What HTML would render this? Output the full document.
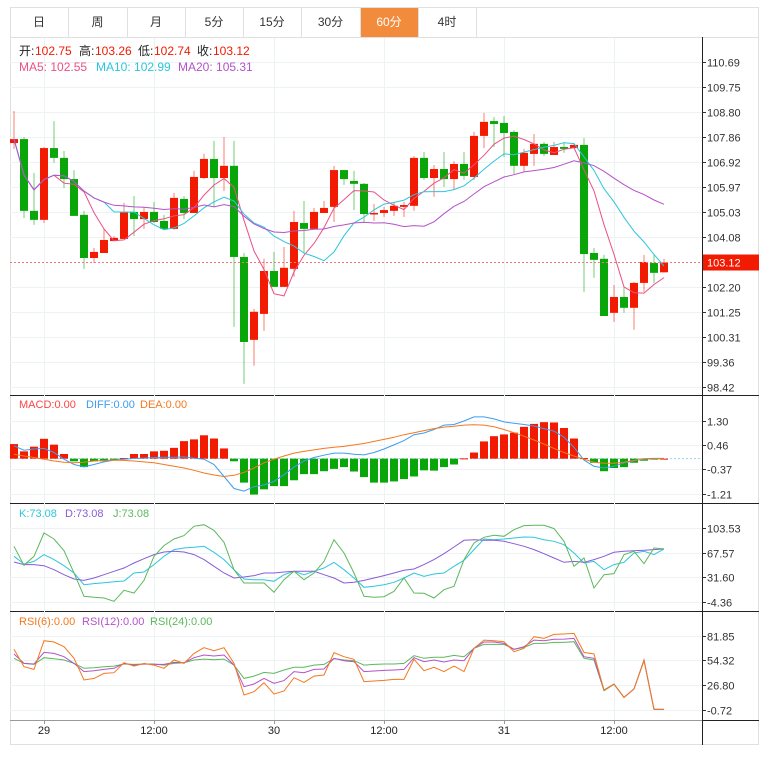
<!DOCTYPE html>
<html><head><meta charset="utf-8">
<style>
html,body{margin:0;padding:0;background:#fff;}
svg{display:block;font-family:"Liberation Sans","Noto Sans CJK SC",sans-serif;}
</style></head>
<body>
<svg id="chart" width="776" height="761" viewBox="0 0 776 761" xmlns="http://www.w3.org/2000/svg">
<g id="tabs"></g>
<g id="grid"></g>
<g id="marks"></g>
<g id="labels"></g>
</svg>
<script>
// ---------- data ----------
const opens  = [107.63,107.78,105.07,104.73,107.44,107.07,106.27,104.92,103.29,103.48,103.93,104.01,105.03,104.76,105.03,104.69,104.39,105.52,104.99,106.31,107.03,106.31,106.77,103.33,100.20,101.18,102.80,102.20,102.88,104.61,104.39,104.99,105.22,106.61,106.20,106.09,104.95,104.99,105.07,105.22,105.26,107.07,106.31,106.65,106.27,106.84,106.35,107.90,108.46,108.39,108.05,106.77,107.22,107.60,107.18,107.48,107.44,107.56,103.48,103.26,101.22,101.82,101.41,102.35,103.10,102.75];
const highs  = [108.84,107.86,106.50,107.48,108.46,107.33,106.61,105.07,103.67,104.39,104.12,105.37,105.63,105.22,105.41,104.92,105.75,105.63,106.58,107.22,107.71,107.86,107.71,103.48,101.37,103.26,103.52,103.71,105.07,105.44,105.18,105.44,106.77,106.61,106.58,106.12,105.33,105.22,105.41,105.41,107.14,107.29,106.80,107.29,106.95,107.29,108.05,108.77,108.61,108.65,108.12,107.41,107.97,107.67,107.67,107.67,107.63,107.82,103.67,103.41,102.27,102.20,102.39,103.41,103.41,103.26];
const lows   = [107.41,104.80,104.54,104.61,106.88,105.93,104.88,102.88,103.10,103.48,103.93,104.01,104.12,104.39,104.61,104.35,104.35,104.76,104.99,106.27,105.22,105.82,100.69,98.54,99.22,100.54,102.20,102.20,102.58,103.48,104.39,104.99,104.65,106.05,105.10,104.61,104.69,104.84,104.88,104.84,105.07,106.24,105.60,105.97,105.86,106.24,106.24,107.44,107.48,107.10,106.46,106.54,106.77,107.14,107.18,107.26,107.44,102.01,102.54,101.10,100.88,101.22,100.58,102.01,102.35,102.74];
const closes = [107.78,105.07,104.73,107.44,107.07,106.27,104.88,103.29,103.52,103.97,104.05,105.03,104.76,105.03,104.65,104.39,105.56,104.99,106.35,107.03,106.31,106.77,103.33,100.12,101.26,102.80,102.20,102.92,104.65,104.39,105.03,105.18,106.61,106.27,106.09,104.95,104.99,105.10,105.26,105.29,107.07,106.31,106.65,106.27,106.84,106.39,107.90,108.43,108.35,108.01,106.77,107.26,107.60,107.22,107.48,107.41,107.56,103.44,103.22,101.10,101.82,101.41,102.35,103.14,102.73,103.12];
const macdHist = [0.50,0.25,0.41,0.68,0.48,0.16,-0.09,-0.29,-0.09,-0.09,-0.01,0.02,0.16,0.16,0.25,0.27,0.37,0.60,0.66,0.80,0.69,0.35,-0.09,-0.82,-1.23,-1.05,-0.94,-0.94,-0.74,-0.53,-0.53,-0.43,-0.35,-0.29,-0.44,-0.63,-0.82,-0.82,-0.78,-0.70,-0.61,-0.40,-0.41,-0.29,-0.20,0.01,0.21,0.59,0.77,0.83,0.89,1.09,1.19,1.25,1.24,1.05,0.69,0.02,-0.14,-0.43,-0.32,-0.29,-0.14,-0.07,-0.02,0.00];
const difValues = [0.44,0.29,0.33,0.35,0.21,-0.02,-0.20,-0.28,-0.20,-0.11,-0.05,-0.02,0.01,0.02,0.04,0.05,0.05,0.06,0.02,-0.02,-0.20,-0.61,-1.02,-1.11,-0.96,-0.90,-0.78,-0.55,-0.29,-0.08,0.04,0.12,0.19,0.19,0.15,0.13,0.21,0.33,0.47,0.62,0.82,0.88,1.00,1.15,1.17,1.29,1.43,1.43,1.36,1.26,1.21,1.17,1.12,1.03,0.94,0.74,0.39,-0.05,-0.26,-0.32,-0.26,-0.14,-0.08,0.00,0.01,0.01];
const deaValues = [0.15,0.09,0.04,-0.02,-0.08,-0.12,-0.14,-0.12,-0.08,-0.06,-0.05,-0.06,-0.08,-0.11,-0.14,-0.20,-0.26,-0.32,-0.40,-0.49,-0.56,-0.61,-0.57,-0.47,-0.32,-0.14,-0.02,0.09,0.19,0.25,0.30,0.35,0.39,0.42,0.47,0.52,0.59,0.66,0.73,0.82,0.89,0.96,1.03,1.08,1.11,1.15,1.16,1.15,1.09,1.00,0.89,0.77,0.64,0.50,0.35,0.21,0.09,-0.02,-0.12,-0.16,-0.16,-0.12,-0.06,-0.02,0.00,0.00];
const kValues = [62.2,51.1,54.9,64.7,57.4,48.6,37.9,20.9,22.4,23.8,25.3,26.3,37.9,39.4,50.1,62.2,72.0,74.4,75.4,76.8,68.1,57.4,42.8,29.2,28.2,28.2,25.8,35.5,40.4,35.5,40.4,45.2,53.5,42.8,30.6,17.0,18.5,20.9,24.3,30.6,37.9,33.1,36.5,37.9,47.7,56.4,72.0,87.5,86.5,87.5,89.0,90.4,89.9,86.5,84.1,79.2,67.1,52.5,54.9,42.8,50.1,53.5,67.1,69.5,64.7,73.1];
const dValues = [54.0,50.1,50.1,48.6,42.8,35.5,29.2,27.2,30.6,35.5,40.4,45.2,52.5,58.8,64.7,68.6,69.5,68.6,64.7,57.4,47.7,37.9,30.6,32.1,34.1,37.9,37.9,39.4,40.4,40.4,40.4,35.5,30.6,23.4,24.3,27.2,30.6,34.1,37.9,41.8,43.8,50.1,57.4,66.1,75.8,85.6,86.5,85.6,85.6,84.1,80.7,76.8,72.0,66.1,59.8,53.5,54.9,53.5,57.4,62.2,68.1,69.5,70.5,71.0,72.0,73.1];
const jValues = [76.8,49.1,62.2,96.3,87.5,70.5,37.9,3.9,2.5,1.5,-3.4,12.7,8.8,27.2,62.2,77.8,87.5,92.4,106.0,108.4,100.1,82.7,42.8,23.4,23.4,23.4,9.8,28.2,40.4,28.2,37.9,54.9,86.5,67.1,37.9,3.9,2.5,3.4,11.2,30.6,8.8,8.3,1.5,13.6,18.5,57.4,81.7,89.9,92.9,91.4,101.1,107.0,107.4,107.4,102.6,84.1,47.7,59.8,16.0,35.5,37.0,64.7,69.5,51.5,74.4,73.1];
const rsi6 = [66.7,47.4,44.4,76.3,74.8,69.6,56.7,32.6,34.4,40.0,40.7,51.9,48.1,51.1,49.2,45.6,54.8,51.1,62.2,68.5,65.2,68.5,51.1,15.9,19.6,29.6,17.0,20.4,35.2,30.0,37.0,38.2,63.0,58.5,55.6,30.8,31.5,32.2,33.3,33.3,55.6,43.0,46.7,41.9,48.1,41.9,67.8,77.0,76.3,75.2,64.1,67.8,80.7,78.9,83.3,83.7,84.4,63.3,61.5,21.5,28.2,13.3,22.6,54.8,0.0,0.0];
const rsi12 = [61.5,51.1,50.4,63.3,62.2,58.5,51.1,41.9,43.0,44.4,45.6,51.1,49.2,50.4,50.0,50.0,52.2,51.9,57.4,60.4,59.3,60.4,49.2,25.2,28.2,34.4,28.9,31.9,41.9,40.7,44.4,44.8,56.7,54.1,53.0,41.9,42.6,43.3,43.7,44.4,57.4,53.0,54.8,52.6,54.8,54.1,67.8,74.8,74.8,73.3,66.7,69.6,77.0,76.3,77.8,78.1,78.9,58.5,56.7,21.5,28.2,13.3,22.6,54.8,0.0,0.0];
const rsi24 = [56.7,51.1,50.0,57.4,56.3,54.8,51.1,45.6,46.3,47.4,48.1,50.4,50.0,50.4,50.4,49.2,51.1,51.9,54.8,55.9,55.2,55.9,49.2,34.4,37.0,41.1,40.0,43.7,46.7,46.7,49.2,50.0,56.3,54.8,54.1,49.2,50.0,50.4,50.4,51.1,59.6,56.7,57.8,57.8,60.0,58.5,67.8,72.2,72.2,72.2,66.7,68.9,73.3,73.3,74.4,74.4,75.2,56.7,54.8,20.7,27.8,13.3,22.6,54.1,0.0,0.0];
const priceTicks = [110.69,109.75,108.80,107.86,106.92,105.97,105.03,104.08,102.20,101.25,100.31,99.36,98.42];
const macdTicks = [1.30,0.46,-0.37,-1.21];
const kdjTicks = [103.53,67.57,31.60,-4.36];
const rsiTicks = [81.85,54.32,26.80,-0.72];
const timeLabels = ["29","12:00","30","12:00","31","12:00"];
const timeIndex = [3,14,26,37,49,60];
const tabNames = ["日","周","月","5分","15分","30分","60分","4时"];
const lastClose = 103.12;

// ---------- helpers ----------
const NS="http://www.w3.org/2000/svg";
function mk(parent,tag,attrs,text){const e=document.createElementNS(NS,tag);for(const k in attrs)e.setAttribute(k,attrs[k]);if(text!==undefined)e.textContent=text;parent.appendChild(e);return e;}
const gTabs=document.getElementById('tabs'),gGrid=document.getElementById('grid'),gMarks=document.getElementById('marks'),gLab=document.getElementById('labels');
const X0=14,DX=10,LEFT=10,AXIS=702,RIGHT=759;
const xAt=i=>X0+i*DX;
function lin(v0,y0,v1,y1){return v=>y0+(v-v0)*(y1-y0)/(v1-v0);}
const yP=lin(110.69,62,98.42,387);
const yM=lin(1.30,420.7,-1.21,494);
const yK=lin(103.53,528,-4.36,602);
const yR=lin(81.85,635.7,-0.72,710);

function ma(n){return closes.map((c,i)=>{const s=Math.max(0,i-n+1);let t=0;for(let j=s;j<=i;j++)t+=closes[j];return t/(i-s+1);});}
const ma5=ma(5),ma10=ma(10),ma20=ma(20);

// ---------- frame ----------
mk(gGrid,'rect',{x:10.5,y:7.5,width:748,height:737,fill:'none',stroke:'#e0e0e0'});
const tabX=[10,68,127,185,243,301,360,418,476];
tabNames.forEach((t,i)=>{
  const r=mk(gTabs,'rect',{x:tabX[i]+0.5,y:7.5,width:tabX[i+1]-tabX[i],height:30,fill:i===6?'#f28b3c':'#fff',stroke:'#e0e0e0'});
  
  
  const tx=mk(gTabs,'text',{x:(tabX[i]+tabX[i+1])/2,y:26,'font-size':12,'text-anchor':'middle',fill:i===6?'#fff':'#333'},t);
  
  
});
mk(gGrid,'line',{x1:10,y1:37.5,x2:759,y2:37.5,stroke:'#e0e0e0'});

function panel(ticks,yf,bottom){
  ticks.forEach(v=>{const y=Math.round(yf(v))+0.5;
    mk(gGrid,'line',{x1:LEFT,y1:y,x2:AXIS,y2:y,stroke:'#edf2f4'});
    mk(gGrid,'line',{x1:AXIS,y1:y,x2:AXIS+4,y2:y,stroke:'#333'});
    const t=mk(gLab,'text',{x:AXIS+5,y:y+4,'font-size':11,fill:'#333'},v.toFixed(2));
    
    
  });
  mk(gGrid,'line',{x1:LEFT,y1:bottom+0.5,x2:RIGHT,y2:bottom+0.5,stroke:'#222'});
}
panel(priceTicks,yP,395);
panel(macdTicks,yM,503);
panel(kdjTicks,yK,611);
panel(rsiTicks,yR,720);
timeIndex.forEach(i=>{const x=xAt(i)+0.5;mk(gGrid,'line',{x1:x,y1:38,x2:x,y2:720,stroke:'#edf2f4'});mk(gGrid,'line',{x1:x,y1:720,x2:x,y2:724,stroke:'#999'});});
mk(gGrid,'line',{x1:LEFT,y1:720.5,x2:AXIS,y2:720.5,stroke:'#999'});
mk(gGrid,'line',{x1:AXIS+0.5,y1:37,x2:AXIS+0.5,y2:745,stroke:'#222'});
timeLabels.forEach((t,k)=>{const e=mk(gLab,'text',{x:xAt(timeIndex[k]),y:734,'font-size':11,'text-anchor':'middle',fill:'#222'},t);
  
  });

// ---------- candles ----------
const RED='#f21a00',GREEN='#08a608';
closes.forEach((c,i)=>{
  const o=opens[i],up=c>=o,col=up?RED:GREEN,x=xAt(i);
  const w=mk(gMarks,'line',{x1:x,y1:yP(highs[i]),x2:x,y2:yP(lows[i]),stroke:col,'stroke-opacity':0.55,'stroke-width':1});
  
  
  const top=yP(Math.max(o,c)),bot=yP(Math.min(o,c));
  const b=mk(gMarks,'rect',{x:x-4,y:top,width:8,height:Math.max(1.5,bot-top),fill:col});
  
  
});
function line(arr,yf,col,name){const pts=arr.map((v,i)=>xAt(i)+','+yf(v).toFixed(1)).join(' ');const p=mk(gMarks,'polyline',{points:pts,fill:'none',stroke:col,'stroke-width':1});
  
  }
line(ma5,yP,'#ec4f86','ma5-line');
line(ma10,yP,'#2cc6dd','ma10-line');
line(ma20,yP,'#b452c8','ma20-line');
mk(gMarks,'line',{x1:LEFT,y1:yP(lastClose),x2:AXIS,y2:yP(lastClose),stroke:'#f07a7a','stroke-dasharray':'2,2'});
const tag=mk(gLab,'rect',{x:AXIS+1,y:yP(lastClose)-8,width:56,height:16,fill:RED});


mk(gLab,'text',{x:AXIS+5,y:yP(lastClose)+4,'font-size':11,fill:'#fff'},lastClose.toFixed(2));

// ---------- MACD ----------
const z=yM(0);
mk(gMarks,'line',{x1:LEFT,y1:z,x2:AXIS,y2:z,stroke:'#9cd3ee','stroke-dasharray':'2,2'});
macdHist.forEach((h,i)=>{const y=yM(h);const r=mk(gMarks,'rect',{x:xAt(i)-4,y:Math.min(y,z),width:8,height:Math.max(1,Math.abs(y-z)),fill:h>=0?RED:GREEN});
  
  });
line(difValues,yM,'#3d9df0','diff-line');
line(deaValues,yM,'#f5781e','dea-line');
// ---------- KDJ ----------
line(kValues,yK,'#2cc6dd','k-line');
line(dValues,yK,'#8a5bd8','d-line');
line(jValues,yK,'#5cb85c','j-line');
// ---------- RSI ----------
line(rsi24,yR,'#5cb85c','rsi24-line');
line(rsi12,yR,'#b452c8','rsi12-line');
line(rsi6,yR,'#f5781e','rsi6-line');

// ---------- legends ----------
function legend(y,fs,parts,name){const g=mk(gLab,'g',{});
  
  
  parts.forEach(p=>{mk(g,'text',{x:p[0],y:y,'font-size':fs,fill:p[2]},p[1]);});}
legend(55,12,[[19,"开:","#222"],[35,"102.75","#f21a00"],[79,"高:","#222"],[95,"103.26","#f21a00"],[138,"低:","#222"],[154,"102.74","#f21a00"],[197,"收:","#222"],[213,"103.12","#f21a00"]],'ohlc-legend');
legend(71,12,[[19,"MA5: 102.55","#ec4f86"],[96,"MA10: 102.99","#2cc6dd"],[178,"MA20: 105.31","#b452c8"]],'ma-legend');
legend(408,11,[[19,"MACD:0.00","#f44"],[86,"DIFF:0.00","#3d9df0"],[140,"DEA:0.00","#f5781e"]],'macd-legend');
legend(517,11,[[19,"K:73.08","#2cc6dd"],[65,"D:73.08","#8a5bd8"],[113,"J:73.08","#5cb85c"]],'kdj-legend');
legend(625,11,[[19,"RSI(6):0.00","#f5781e"],[82,"RSI(12):0.00","#b452c8"],[150,"RSI(24):0.00","#5cb85c"]],'rsi-legend');
</script>
</body></html>
